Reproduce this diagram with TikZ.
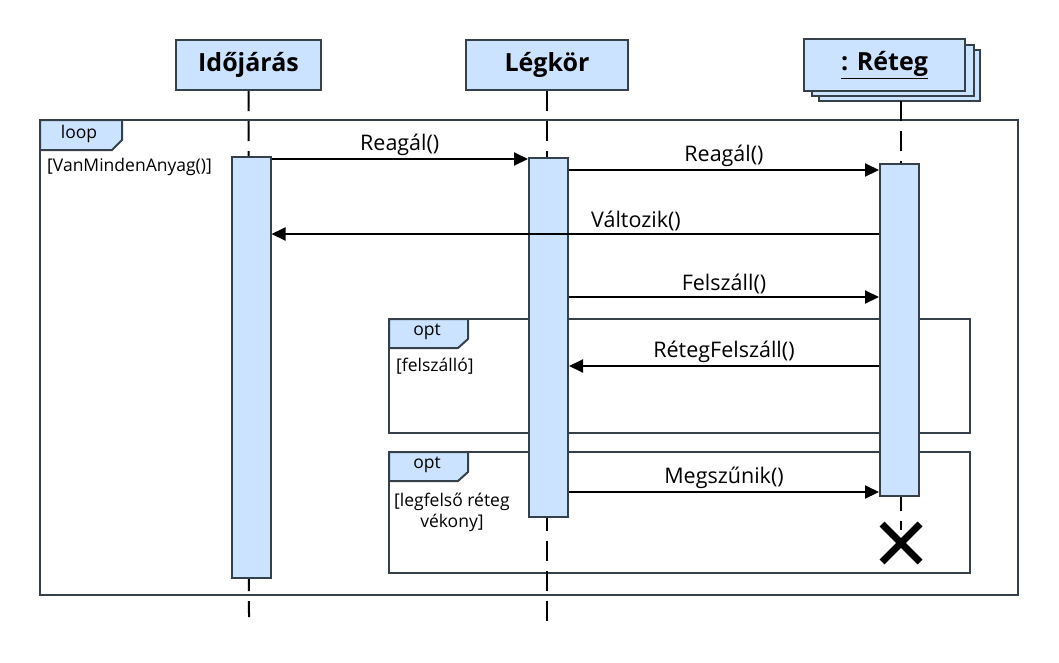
\documentclass[tikz,border=0pt]{standalone}
\usepackage{fontspec}
\setmainfont{Open Sans}
\usetikzlibrary{arrows.meta,calc}
\definecolor{boxfill}{HTML}{CCE3FF}
\definecolor{boxline}{HTML}{36404A}
\begin{document}
\begin{tikzpicture}[x=1pt,y=-1pt,
  headbox/.style={draw=boxline,fill=boxfill,line width=2pt,minimum width=#1,minimum height=50pt,inner sep=0pt,font=\fontsize{25}{28}\selectfont\bfseries},
  headbox/.default=144pt,
  actbox/.style={draw=boxline,fill=boxfill,line width=2pt},
  lifeline/.style={black,line width=2pt,dash pattern=on 20pt off 10pt},
  msg/.style={black,line width=2pt,-{Triangle[length=14pt,width=13pt]}},
  msglabel/.style={font=\fontsize{21.5}{24}\selectfont,anchor=south,inner sep=2pt},
  framebox/.style={draw=boxline,line width=2pt},
  tagbox/.style={draw=boxline,fill=boxfill,line width=2pt},
  tagtext/.style={font=\fontsize{17.5}{20}\selectfont},
  guard/.style={font=\fontsize{17.5}{21}\selectfont,anchor=west,inner sep=0pt,align=center}]
\useasboundingbox (0,0) rectangle (1059,662);
% frames
\draw[framebox] (40,120) rectangle (1018,595);
\draw[tagbox] (40,120) -- (122,120) -- (122,140) -- (112,150) -- (40,150) -- cycle;
\node[tagtext] (looptag) at (79,134) {loop};
\node[guard] (loopguard) at (47,167) {[VanMindenAnyag()]};
\draw[framebox] (389,319) rectangle (970,433);
\draw[tagbox] (389,319) -- (468,319) -- (468,339) -- (458,348) -- (389,348) -- cycle;
\node[tagtext] (opt1tag) at (427,332) {opt};
\node[guard] (opt1guard) at (396,366) {[felszálló]};
\draw[framebox] (389,452) rectangle (970,573);
\draw[tagbox] (389,452) -- (468,452) -- (468,472) -- (458,481) -- (389,481) -- cycle;
\node[tagtext] (opt2tag) at (427,465) {opt};
\node[guard] (opt2guard) at (394,512) {[legfelső réteg\\vékony]};
% headers
\node[headbox=145pt] (ido) at (248.5,65) {Időjárás};
\node[headbox=162pt] (legkor) at (547,65) {Légkör};
\draw[draw=boxline,fill=boxfill,line width=2pt] (819,50) rectangle (980,101);
\draw[draw=boxline,fill=boxfill,line width=2pt] (812,45) rectangle (974,96);
\node[headbox=161pt,minimum height=52pt] (reteg) at (884.5,65) {\underline{: Réteg}};
% lifelines
\coordinate (idoend) at (249,617);
\coordinate (legend) at (547,622);
\coordinate (retegtop) at (901,101);
\coordinate (x) at (901,543);
\draw[lifeline] (ido.south) -- (idoend);
\draw[lifeline] (legkor.south) -- (legend);
\draw[lifeline] (retegtop) -- (901,530);
% activations
\node[actbox,minimum width=39pt,minimum height=421pt,inner sep=0pt] (a1) at (251,367.5) {};
\node[actbox,minimum width=39pt,minimum height=359pt,inner sep=0pt] (a2) at (548.5,337.5) {};
\node[actbox,minimum width=39pt,minimum height=332pt,inner sep=0pt] (a3) at (899.5,330) {};
% destruction
\draw[black,line width=7pt] ($(x)+(-19,-19)$) -- ($(x)+(19,19)$) ($(x)+(-19,19)$) -- ($(x)+(19,-19)$);
% messages
\draw[msg] (a1.east |- 0,159) -- node[msglabel,pos=0.5]{Reagál()} (a2.west |- 0,159);
\draw[msg] (a2.east |- 0,170) -- node[msglabel]{Reagál()} (a3.west |- 0,170);
\draw[msg] (a3.west |- 0,234) -- node[msglabel,pos=0.4]{Változik()} (a1.east |- 0,234);
\draw[msg] (a2.east |- 0,297) -- node[msglabel]{Felszáll()} (a3.west |- 0,297);
\draw[msg] (a3.west |- 0,366) -- node[msglabel]{RétegFelszáll()} (a2.east |- 0,366);
\draw[msg] (a2.east |- 0,492) -- node[msglabel]{Megszűnik()} (a3.west |- 0,492);
\end{tikzpicture}
\end{document}
